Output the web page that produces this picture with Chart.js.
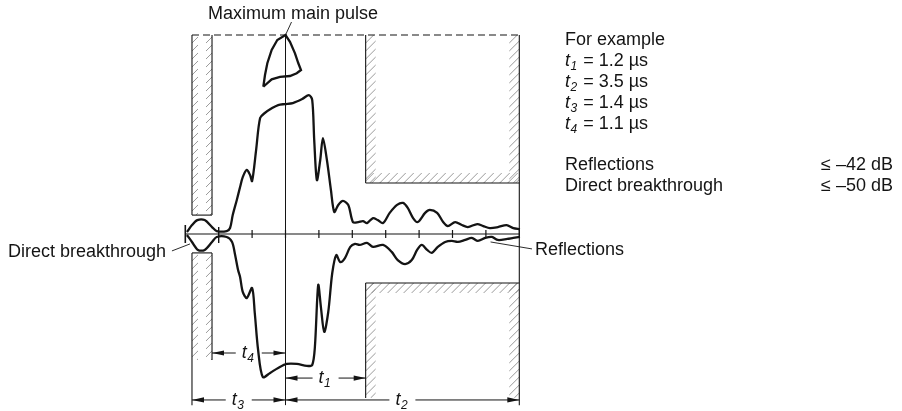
<!DOCTYPE html>
<html>
<head>
<meta charset="utf-8">
<script src="https://cdn.jsdelivr.net/npm/chart.js@4.4.1/dist/chart.umd.min.js"></script>
<style>
  html, body { margin: 0; padding: 0; background: #fff; overflow: hidden; }
  canvas { display: block; }
</style>
</head>
<body>
<canvas id="c" width="902" height="411"></canvas>
<script>
// Time axis in µs, 0 = maximum of the main pulse. Amplitude in % of the maximum.

// Upper envelope of the received pulse
const upperTime = [-1.475, -1.40, -1.32, -1.21, -1.10, -1.03, -0.88, -0.83, -0.79, -0.73,
  -0.68, -0.64, -0.58, -0.53, -0.50, -0.44, -0.38, -0.31, -0.20, -0.11,
  -0.01, 0.11, 0.25, 0.35, 0.40, 0.43, 0.47, 0.52, 0.56, 0.62,
  0.68, 0.73, 0.79, 0.86, 0.94, 1.01, 1.09, 1.16, 1.22, 1.31,
  1.38, 1.46, 1.56, 1.67, 1.76, 1.83, 1.91, 1.98, 2.09, 2.16,
  2.27, 2.36, 2.43, 2.54, 2.64, 2.73, 2.87, 2.96, 3.06, 3.18,
  3.31, 3.41, 3.51];
const upperAmp = [1.0, 4.5, 7.0, 7.0, 3.5, 1.5, 1.5, 3.0, 9.5, 17.0,
  23.6, 28.6, 32.2, 29.6, 26.6, 42.2, 58.3, 60.8, 63.3, 64.8,
  65.3, 65.8, 67.8, 69.8, 67.3, 47.2, 27.1, 37.2, 48.2, 37.2,
  22.1, 11.1, 14.6, 16.6, 14.6, 6.0, 6.0, 6.5, 5.5, 8.0,
  7.0, 5.5, 10.6, 14.6, 15.6, 13.1, 8.0, 6.0, 10.6, 12.1,
  10.6, 6.0, 4.0, 6.0, 4.5, 3.5, 5.0, 4.0, 3.0, 3.5,
  4.5, 3.0, 2.5];

// Lower envelope of the received pulse
const lowerTime = [-1.475, -1.40, -1.31, -1.21, -1.10, -1.03, -0.88, -0.80, -0.76, -0.71,
  -0.68, -0.64, -0.58, -0.50, -0.46, -0.41, -0.34, -0.23, -0.11, 0.02,
  0.17, 0.32, 0.40, 0.44, 0.49, 0.53, 0.58, 0.64, 0.70, 0.76,
  0.82, 0.89, 0.97, 1.04, 1.11, 1.22, 1.31, 1.46, 1.59, 1.68,
  1.79, 1.89, 1.97, 2.04, 2.12, 2.19, 2.28, 2.39, 2.49, 2.58,
  2.69, 2.79, 2.88, 2.99, 3.09, 3.18, 3.32, 3.41, 3.51];
const lowerAmp = [-0.5, -4.0, -8.0, -8.0, -4.0, -1.5, -1.5, -4.0, -9.5, -18.1,
  -21.6, -29.1, -32.2, -27.1, -39.7, -58.3, -71.9, -69.8, -67.3, -65.3,
  -65.3, -66.3, -65.8, -56.8, -25.6, -36.7, -49.2, -39.2, -19.6, -10.6,
  -14.1, -12.1, -6.5, -5.0, -5.5, -4.5, -6.5, -5.5, -9.0, -13.1,
  -15.1, -13.1, -8.0, -5.5, -8.0, -9.5, -6.5, -4.0, -3.5, -4.0,
  -3.0, -2.0, -3.5, -2.0, -1.5, -3.0, -2.5, -2.0, -1.5];

// Tip of the main pulse (closed outline)
const capTime = [-0.332, -0.307, -0.272, -0.207, -0.123, 0.0, 0.067, 0.142, 0.192, 0.232,
  0.168, 0.067, -0.082, -0.207, -0.332];
const capAmp = [74.0, 79.9, 85.8, 92.5, 97.5, 100.0, 96.6, 90.8, 85.8, 82.4,
  80.8, 79.4, 79.0, 77.7, 74.0];

// Time marks on the zero line
const tickTimes = [-0.5, 0, 0.5, 1.0, 1.5, 2.0, 2.5, 3.0, 3.5];
const crossTime = -1.0;
const startTime = -1.5;

// Example intervals (µs)
const periodNames = ['1', '2', '3', '4'];
const periodValues = [1.2, 3.5, 1.4, 1.1];

// Permitted levels
const levelNames = ['Reflections', 'Direct breakthrough'];
const levelValues = [-42, -50];

// Mask limits (amplitude %)
const maskTop = 100;
const leftMaskUpperEnd = 9.5;
const leftMaskLowerStart = -9.5;
const leftMaskLowerEnd = -63.3;
const rightMaskUpperEnd = 25.6;
const rightMaskLowerStart = -24.6;
const rightMaskLowerEnd = -82.4;

const [t1, t2, t3, t4] = periodValues;
const FONT = '"Liberation Sans", Arial, Helvetica, sans-serif';
const INK = '#141414';

const toPoints = (xs, ys) => xs.map((x, i) => ({ x, y: ys[i] }));

function hatch(ctx, x0, y0, x1, y1, step) {
  const l = Math.min(x0, x1), r = Math.max(x0, x1);
  const t = Math.min(y0, y1), b = Math.max(y0, y1);
  ctx.save();
  ctx.beginPath();
  ctx.rect(l, t, r - l, b - t);
  ctx.clip();
  ctx.beginPath();
  const h = b - t, w = r - l;
  for (let s = -h - step; s < w + h; s += step) {
    ctx.moveTo(l + s, b);
    ctx.lineTo(l + s + h + w, b - h - w);
  }
  ctx.strokeStyle = '#808080';
  ctx.lineWidth = 0.8;
  ctx.stroke();
  ctx.restore();
}

function line(ctx, xa, ya, xb, yb) {
  ctx.beginPath();
  ctx.moveTo(xa, ya);
  ctx.lineTo(xb, yb);
  ctx.stroke();
}

function arrowHead(ctx, x, y, dir) {
  ctx.beginPath();
  ctx.moveTo(x, y);
  ctx.lineTo(x - dir * 12, y - 2.6);
  ctx.lineTo(x - dir * 12, y + 2.6);
  ctx.closePath();
  ctx.fill();
}

function drawT(ctx, x, y, sub) {
  ctx.textAlign = 'left';
  ctx.textBaseline = 'alphabetic';
  ctx.font = 'italic 18px ' + FONT;
  ctx.fillText('t', x, y);
  const w = ctx.measureText('t').width;
  ctx.font = 'italic 12px ' + FONT;
  ctx.fillText(sub, x + w + 0.5, y + 4);
  return w + 0.5 + ctx.measureText(sub).width;
}

function dimension(ctx, xa, xb, y, sub) {
  const mid = (xa + xb) / 2;
  const gap = 13;
  ctx.lineWidth = 1;
  line(ctx, xa, y, mid - gap, y);
  line(ctx, mid + gap, y, xb, y);
  arrowHead(ctx, xa, y, -1);
  arrowHead(ctx, xb, y, 1);
  drawT(ctx, mid - 7, y + 5, sub);
}

const diagram = {
  id: 'diagram',
  beforeDatasetsDraw(chart) {
    const ctx = chart.ctx;
    const X = v => chart.scales.x.getPixelForValue(v);
    const Y = v => chart.scales.y.getPixelForValue(v);
    ctx.save();
    ctx.strokeStyle = INK;
    ctx.fillStyle = INK;

    // left mask strip (before the pulse)
    const lo = X(-t3), li = X(-t4);
    const band = 6;
    hatch(ctx, lo, Y(maskTop), lo + band, Y(leftMaskUpperEnd), 8);
    hatch(ctx, li - band, Y(maskTop), li, Y(leftMaskUpperEnd), 8);
    hatch(ctx, lo, Y(leftMaskLowerStart), lo + band, Y(leftMaskLowerEnd), 8);
    hatch(ctx, li - band, Y(leftMaskLowerStart), li, Y(leftMaskLowerEnd), 8);
    ctx.lineWidth = 1.1;
    line(ctx, lo, Y(maskTop), lo, Y(leftMaskUpperEnd));
    line(ctx, li, Y(maskTop), li, Y(leftMaskUpperEnd));
    line(ctx, lo, Y(leftMaskUpperEnd), li, Y(leftMaskUpperEnd));
    line(ctx, lo, Y(leftMaskLowerStart), li, Y(leftMaskLowerStart));
    line(ctx, lo, Y(leftMaskLowerStart), lo, Y(-86));
    line(ctx, li, Y(leftMaskLowerStart), li, Y(leftMaskLowerEnd));

    // right mask (after the pulse)
    const ro = X(t1), re = X(t2);
    const rb = 10;
    hatch(ctx, ro, Y(maskTop), ro + rb, Y(rightMaskUpperEnd), 8);
    hatch(ctx, ro, Y(rightMaskUpperEnd) - rb, re, Y(rightMaskUpperEnd), 8);
    hatch(ctx, re - rb, Y(maskTop), re, Y(rightMaskUpperEnd), 8);
    hatch(ctx, ro, Y(rightMaskLowerStart), re, Y(rightMaskLowerStart) + rb, 8);
    hatch(ctx, ro, Y(rightMaskLowerStart), ro + rb, Y(rightMaskLowerEnd), 8);
    hatch(ctx, re - rb, Y(rightMaskLowerStart), re, Y(rightMaskLowerEnd), 8);
    ctx.lineWidth = 1.1;
    line(ctx, ro, Y(maskTop), ro, Y(rightMaskUpperEnd));
    line(ctx, ro, Y(rightMaskUpperEnd), re, Y(rightMaskUpperEnd));
    line(ctx, re, Y(maskTop), re, Y(-86));
    line(ctx, ro, Y(rightMaskLowerStart), re, Y(rightMaskLowerStart));
    line(ctx, ro, Y(rightMaskLowerStart), ro, Y(rightMaskLowerEnd));

    // dashed limit at maximum
    ctx.setLineDash([7, 4]);
    ctx.lineWidth = 1.1;
    line(ctx, lo, Y(maskTop), re, Y(maskTop));
    ctx.setLineDash([]);

    // zero line with time marks
    const y0 = Y(0);
    ctx.lineWidth = 1.2;
    line(ctx, X(startTime), y0, X(t2), y0);
    tickTimes.forEach(t => line(ctx, X(t), y0 - 4, X(t), y0 + 4));
    ctx.lineWidth = 1.4;
    line(ctx, X(crossTime), y0 - 7, X(crossTime), y0 + 9);
    ctx.lineWidth = 1.6;
    line(ctx, X(startTime), y0 - 9, X(startTime), y0 + 9);

    // centre line through the maximum
    ctx.lineWidth = 1;
    line(ctx, X(0), Y(maskTop), X(0), Y(-86));

    // interval dimensions
    dimension(ctx, X(-t4), X(0), Y(-59.8), periodNames[3]);
    dimension(ctx, X(0), X(t1), Y(-72.4), periodNames[0]);
    dimension(ctx, X(-t3), X(0), Y(-83.4), periodNames[2]);
    dimension(ctx, X(0), X(t2), Y(-83.4), periodNames[1]);

    // leader lines
    ctx.lineWidth = 0.9;
    line(ctx, X(0) + 6, Y(0) - 212, X(0), Y(maskTop));
    line(ctx, X(-1.70), Y(-8.5), X(-1.43), Y(-5));
    line(ctx, X(3.07), Y(-4), X(3.69), Y(-7.5));
    ctx.restore();
  },
  afterDatasetsDraw(chart) {
    const ctx = chart.ctx;
    ctx.save();
    ctx.fillStyle = INK;
    ctx.textBaseline = 'alphabetic';
    ctx.textAlign = 'left';
    ctx.font = '18px ' + FONT;
    ctx.fillText('Maximum main pulse', 208, 19);
    ctx.fillText('Direct breakthrough', 8, 257);
    ctx.fillText('Reflections', 535, 255);

    const bx = 565;
    ctx.fillText('For example', bx, 45);
    periodNames.forEach((n, i) => {
      const y = 66 + i * 21;
      const w = drawT(ctx, bx, y, n);
      ctx.font = '18px ' + FONT;
      ctx.fillText(' = ' + periodValues[i].toFixed(1) + ' µs', bx + w + 1, y);
    });
    levelNames.forEach((n, i) => {
      const y = 170 + i * 21;
      ctx.textAlign = 'left';
      ctx.fillText(n, bx, y);
      ctx.textAlign = 'right';
      ctx.fillText('≤ –' + Math.abs(levelValues[i]) + ' dB', 893, y);
    });
    ctx.restore();
  }
};

const curve = (data, tension) => ({
  data,
  showLine: true,
  borderColor: INK,
  borderWidth: 2.3,
  pointRadius: 0,
  tension,
  fill: false,
  clip: false
});

const chart = new Chart(document.getElementById('c'), {
  type: 'scatter',
  data: {
    datasets: [
      curve(toPoints(upperTime, upperAmp), 0.3),
      curve(toPoints(lowerTime, lowerAmp), 0.3),
      curve(toPoints(capTime, capAmp), 0)
    ]
  },
  options: {
    responsive: false,
    animation: false,
    devicePixelRatio: 1,
    layout: { padding: { left: 178.62, right: 369.34, top: 15.1, bottom: 1.88 } },
    scales: {
      x: { type: 'linear', min: -1.6, max: 3.7, display: false },
      y: { type: 'linear', min: -88, max: 110, display: false }
    },
    plugins: { legend: { display: false }, tooltip: { enabled: false } }
  },
  plugins: [diagram]
});
</script>
</body>
</html>
